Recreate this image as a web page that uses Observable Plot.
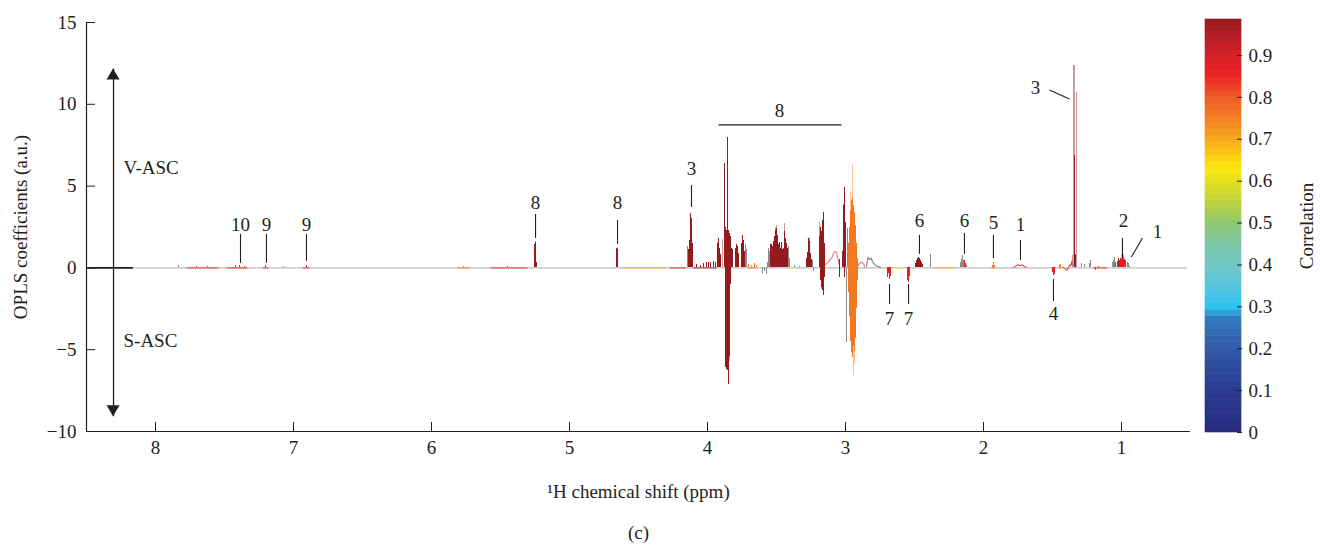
<!DOCTYPE html>
<html><head><meta charset="utf-8">
<script src="https://cdn.jsdelivr.net/npm/d3@7"></script>
<script src="https://cdn.jsdelivr.net/npm/@observablehq/plot@0.6"></script>
<style>
body{margin:0;background:#fff;}
#wrap{position:relative;width:1320px;height:547px;}
#wrap svg{position:absolute;top:0;}
</style></head><body><div id="wrap"></div>
<script>
// ---------- data ----------
const D = 0.985, R = 0.86, O = 0.76, A = 0.70, Y = 0.64, G = null; // correlation levels (G = not significant, grey)

const xTicks = [8, 7, 6, 5, 4, 3, 2, 1];
const yTicks = [-10, -5, 0, 5, 10, 15];
const cbarTicks = [0, 0.1, 0.2, 0.3, 0.4, 0.5, 0.6, 0.7, 0.8, 0.9];
const cbarMax = 0.986;

const corrStops  = [0, 0.1, 0.2, 0.27, 0.3, 0.35, 0.4, 0.45, 0.5, 0.55, 0.6, 0.63, 0.67, 0.7, 0.75, 0.8, 0.83, 0.86, 0.9, 0.95, 1.0];
const corrColors = ["#262a7f", "#2a3b90", "#3159a6", "#3479bd", "#2ec3ef", "#58c5dd", "#70c6c5", "#7cc6a6", "#8fc871", "#bcd23d", "#e4e11c", "#fde910", "#fcc314", "#f8a81b", "#f47f24", "#ef5b25", "#ec3a25", "#ec1e24", "#d41f27", "#b01d24", "#8a181c"];

const spectrumRange = [8.16, 0.52];
const blankRange = [8.49, 8.16];

// [ppm, OPLS coefficient, correlation]
const peaksAromatic = [
  [7.83,0.15,G],[7.70,0.06,R],[7.62,0.06,R],[7.42,0.12,R],[7.39,0.16,R],[7.355,0.1,R],[7.20,0.15,R],
  [7.07,0.1,G],[6.905,0.14,R],[5.77,0.06,O],[5.45,0.06,R]
];
const peaksSugar = [
  [5.252,1.45,D],[5.245,1.55,D],[5.238,0.3,D],
  [4.658,1.2,D],[4.650,1.15,D],
  [4.143,1.3,G],[4.136,1.1,D],[4.128,1.7,D],[4.123,3.3,D],[4.117,3.05,D],[4.112,1.5,D],[4.106,0.4,D],
  [4.08,0.2,D],[4.05,0.15,D],[4.03,0.25,D],[4.01,0.3,D],[3.99,0.35,D],[3.975,0.3,D],[3.96,0.4,D],[3.945,0.3,D],
  [3.928,1.5,D],[3.921,1.8,D],[3.914,1.2,D],[3.906,0.8,D],
  [3.88,1.5,D],[3.874,6.4,D],[3.868,2.5,D],[3.862,2.3,D],[3.857,2.6,D],[3.852,7.97,D],[3.846,2.3,D],[3.84,2.1,D],[3.833,1.9,D],[3.826,1.2,D],[3.819,1.1,D],
  [3.866,-6.1,D],[3.861,-6.2,D],[3.856,-6.3,D],[3.851,-7.1,D],[3.846,-6.2,D],[3.841,-5.4,D],[3.836,-1.0,D],
  [3.80,1.2,D],[3.793,1.4,D],[3.786,1.1,D],[3.779,1.3,D],[3.772,0.9,D],
  [3.752,1.5,D],[3.745,1.95,D],[3.739,1.7,D],[3.733,1.0,D],
  [3.727,1.4,G],[3.72,1.1,G],
  [3.70,0.2,O],[3.68,0.15,O],[3.66,0.25,O],[3.645,0.15,O],
  [3.60,-0.37,G],[3.59,-0.25,G],[3.575,-0.4,G],[3.565,0.3,G],[3.556,1.2,G],[3.549,1.0,G]
];
const peaksMid = [
  [3.54,1.4,D],[3.533,1.45,D],[3.526,1.3,D],[3.519,1.6,D],[3.512,1.9,D],[3.505,2.3,D],[3.499,2.4,D],[3.492,2.0,D],
  [3.485,1.4,D],[3.478,1.55,D],[3.471,1.2,D],[3.465,1.55,D],[3.458,1.1,D],[3.451,1.2,D],[3.444,2.2,D],[3.437,1.8,D],
  [3.43,1.5,D],[3.423,1.2,D],[3.417,0.9,D],[3.41,1.3,G],[3.403,0.6,G],
  [3.39,0.1,Y],[3.37,0.12,G],[3.33,0.08,G],
  [3.285,0.6,D],[3.278,0.95,D],[3.271,1.3,D],[3.266,1.82,D],[3.259,1.6,D],[3.252,0.9,D],[3.245,0.5,D],[3.236,0.45,G],[3.23,-0.2,G],
  [3.192,1.2,D],[3.186,1.9,D],[3.18,2.5,D],[3.174,2.2,D],[3.168,2.9,D],[3.162,3.3,D],[3.157,3.4,D],[3.151,1.5,D],
  [3.18,-0.8,D],[3.174,-1.2,D],[3.168,-1.4,D],[3.162,-1.7,D],[3.157,-1.6,D],[3.151,-0.6,D],
  [3.046,-0.6,D],[3.04,0.5,D],
  [3.024,1.0,D],[3.017,3.8,D],[3.011,3.5,D],[3.004,4.9,D],[2.998,2.8,D],[3.01,-0.6,D],
  [2.992,-4.56,G],[2.989,2.4,G],
  [2.976,1.5,O],[2.97,2.5,O],[2.963,3.5,O],[2.957,4.1,O],[2.952,4.0,O],[2.946,4.3,O],[2.94,3.8,O],[2.934,3.4,O],[2.928,2.6,O],[2.922,1.5,O],[2.916,0.6,O],
  [2.976,-1.5,O],[2.97,-3.0,O],[2.963,-4.5,O],[2.957,-5.2,O],[2.952,-5.0,O],[2.946,-5.5,O],[2.94,-4.8,O],[2.934,-5.1,O],[2.928,-4.3,O],[2.922,-2.5,O],[2.916,-0.8,O]
];
const peaksAliphatic = [
  [2.693,-0.6,R],[2.686,-0.35,R],[2.679,-0.7,R],[2.672,-0.5,R],
  [2.55,-0.75,R],[2.543,-0.87,R],[2.536,-0.55,R],
  [2.49,0.25,D],[2.483,0.45,D],[2.476,0.55,D],[2.469,0.63,D],[2.462,0.6,D],[2.455,0.45,D],[2.448,0.3,D],[2.441,0.2,D],
  [2.384,0.79,G],
  [2.17,0.3,G],[2.162,0.5,G],[2.155,0.73,G],[2.148,0.45,G],[2.14,0.47,R],[2.133,0.25,R],[2.125,0.15,G],
  [1.935,0.15,O],[1.928,0.3,O],[1.921,0.12,O],
  [1.497,-0.3,R],[1.492,-0.45,R],[1.487,-0.39,R],
  [1.45,0.15,O],[1.44,0.2,O],
  [1.355,0.3,G],[1.343,6.9,D],[1.338,6.9,D],[1.333,0.8,D],
  [1.29,0.25,G],[1.27,0.2,G],[1.235,0.25,G],[1.225,0.45,G],[1.19,-0.18,R],[1.17,0.1,R],
  [1.062,0.3,G],[1.055,0.47,G],[1.048,0.63,G],[1.04,0.35,R],[1.032,0.4,R],[1.025,0.55,D],[1.018,0.45,R],[1.01,0.6,R],
  [1.003,0.5,R],[0.996,0.6,R],[0.989,0.55,R],[0.982,0.65,R],[0.975,0.5,R],[0.968,0.45,R],[0.96,0.3,G],[0.952,0.25,G],[0.944,0.1,G]
];
// faint (light-shaded) traces of the spectrum
const paleTraces = [
  [5.249,1.6,D],[4.654,1.25,D],[4.126,3.35,D],[3.894,1.75,D],[3.841,-5.7,D],[3.507,2.46,D],[3.497,2.6,D],[3.442,2.7,D],
  [3.262,1.85,D],[3.188,2.77,D],[3.176,-1.3,D],[3.014,3.85,D],[3.007,4.5,D],
  [2.965,4.7,O],[2.952,6.34,O],[2.945,-6.6,O],[2.935,-5.9,O],
  [1.358,0.73,D],[1.346,12.35,D],[1.341,12.35,D],[1.329,10.7,D],[1.0,0.75,R],[0.985,0.8,R]
];
// coloured stretches of the baseline [from ppm, to ppm, correlation]
const baseSegments = [
  [7.77,7.54,R],[7.48,7.33,R],[7.22,7.18,R],[6.93,6.88,R],[5.81,5.72,O],[5.57,5.30,R],[4.61,4.29,A],[4.27,4.15,R],
  [4.10,3.93,D],[3.71,3.64,O],[3.40,3.38,Y],[2.66,2.57,Y],[2.36,2.20,A],[1.94,1.91,O],[1.45,1.43,O],[1.20,1.10,R]
];
// broad humps [ppm, value]
const humpPale1 = [[3.145,0.2],[3.121,0.4],[3.097,0.66],[3.08,1.0],[3.068,1.0],[3.056,0.6],[3.046,0.2]];
const humpPale2 = [[2.915,0.05],[2.9,0.25],[2.885,0.35],[2.87,0.25],[2.86,0.05]];
const humpGrey  = [[2.848,0.1],[2.838,0.65],[2.826,0.5],[2.814,0.6],[2.802,0.35],[2.783,0.15],[2.746,0.03]];
const humpRed1  = [[1.78,0.03],[1.765,0.12],[1.75,0.2],[1.735,0.14],[1.72,0.18],[1.705,0.1],[1.69,0.03]];
const humpRed2  = [[1.425,0.05],[1.41,-0.05],[1.395,-0.15],[1.385,0.0],[1.375,0.2],[1.365,0.15],[1.358,0.45]];

// annotations
const annoLabels = ["10","9","9","8","8","3","8","6","6","5","1","2","1","3","7","7","4"];
const annoPpm    = [7.384,7.196,6.906,5.246,4.652,4.116,3.478,2.464,2.138,1.928,1.732,0.986,0.739,1.623,2.681,2.543,1.493];
const annoValue  = [2.63,2.63,2.63,3.97,3.97,6.05,9.6,2.87,2.87,2.75,2.63,2.87,2.2,11.0,-3.12,-3.12,-2.81];
// leader lines [ppm1, v1, ppm2, v2]
const leaders = [
  [7.384,2.08,7.384,0.31],[7.196,2.08,7.196,0.31],[6.906,2.08,6.906,0.43],
  [5.246,3.30,5.246,1.83],[4.652,2.93,4.652,1.47],[4.116,5.07,4.116,3.73],
  [3.920,8.74,3.029,8.74],
  [2.464,2.02,2.464,0.86],[2.138,2.14,2.138,0.86],[1.928,2.02,1.928,0.61],[1.732,1.71,1.732,0.49],
  [0.993,1.83,0.993,0.61],[0.928,0.67,0.848,1.83],[1.522,10.88,1.377,10.33],
  [2.681,-0.98,2.681,-2.2],[2.543,-0.98,2.543,-2.2],[1.493,-0.67,1.493,-2.02]
];
const groupArrow = {x: 8.304, top: 12.16, bottom: -9.1};
const groupLabels = ["V-ASC", "S-ASC"];
const groupLabelPos = [[8.232, 6.11], [8.232, -4.46]];

// ---------- chart ----------
const ink = "#231f20";
const font = "'Liberation Serif', 'Times New Roman', serif";
const colorOpts = {type: "linear", domain: corrStops, range: corrColors, interpolate: "rgb"};
const allPeaks = [...peaksAromatic, ...peaksSugar, ...peaksMid, ...peaksAliphatic];
const colored = allPeaks.filter(d => d[2] != null);
const grey = allPeaks.filter(d => d[2] == null);
const annos = annoLabels.map((t, i) => ({t, x: annoPpm[i], y: annoValue[i]}));

function arrowHeads(index, scales) {
  const x = scales.x(groupArrow.x), yt = scales.y(groupArrow.top), yb = scales.y(groupArrow.bottom);
  const g = d3.create("svg:g").attr("fill", ink);
  g.append("path").attr("d", `M${x},${yt}L${x - 6.5},${yt + 11}L${x + 6.5},${yt + 11}Z`);
  g.append("path").attr("d", `M${x},${yb}L${x - 6.5},${yb - 11}L${x + 6.5},${yb - 11}Z`);
  return g.node();
}

const stick = {y1: 0, shapeRendering: "crispEdges"};

const main = Plot.plot({
  width: 1320, height: 547,
  marginLeft: 86, marginRight: 130, marginTop: 22, marginBottom: 116,
  style: {fontFamily: font, fontSize: "19px", color: ink, background: "transparent", overflow: "visible"},
  x: {domain: [8.5, 0.5]},
  y: {domain: [-10, 15]},
  color: colorOpts,
  marks: [
    Plot.ruleY([blankRange[0]], {y: 0, x1: blankRange[0], x2: spectrumRange[1], stroke: "#cfcfcf", strokeWidth: 1.6}),
    Plot.ruleY([blankRange], {y: 0, x1: d => d[0], x2: d => d[1], stroke: "#222", strokeWidth: 1.6}),
    Plot.ruleY(baseSegments, {y: 0, x1: d => d[0], x2: d => d[1], stroke: d => d[2], strokeWidth: 1, strokeOpacity: 0.85}),
    Plot.ruleX(paleTraces, {...stick, x: d => d[0], y2: d => d[1], stroke: d => d[2], strokeOpacity: 0.45}),
    Plot.line(humpPale1, {x: d => d[0], y: d => d[1], stroke: () => R, strokeOpacity: 0.55, strokeWidth: 1.2}),
    Plot.line(humpPale2, {x: d => d[0], y: d => d[1], stroke: () => R, strokeOpacity: 0.55, strokeWidth: 1.2}),
    Plot.line(humpGrey, {x: d => d[0], y: d => d[1], stroke: "#8a8a8a", strokeWidth: 1.2}),
    Plot.line(humpRed1, {x: d => d[0], y: d => d[1], stroke: () => R, strokeWidth: 1}),
    Plot.line(humpRed2, {x: d => d[0], y: d => d[1], stroke: () => R, strokeWidth: 1}),
    Plot.ruleX(grey, {...stick, x: d => d[0], y2: d => d[1], stroke: "#8a8a8a"}),
    Plot.ruleX(colored, {...stick, x: d => d[0], y2: d => d[1], stroke: d => d[2]}),
    // axes
    Plot.ruleX([8.5], {y1: -10, y2: 15, stroke: ink, strokeWidth: 1.2}),
    Plot.ruleY([-10], {x1: 8.5, x2: 0.5, stroke: ink, strokeWidth: 1.2}),
    Plot.axisY(yTicks, {anchor: "left", tickSize: 0, tickPadding: 10, label: null, fill: ink}),
    Plot.axisY(yTicks, {anchor: "left", tickSize: 9, dx: 9, tickFormat: () => "", label: null, stroke: ink}),
    Plot.axisX(xTicks, {anchor: "bottom", tickSize: 0, tickPadding: 9, label: null, fill: ink, tickFormat: d => String(d)}),
    Plot.axisX(xTicks, {anchor: "bottom", tickSize: 9, dy: -9, tickFormat: () => "", label: null, stroke: ink}),
    Plot.text(["OPLS coefficients (a.u.)"], {text: d => d, frameAnchor: "left", textAnchor: "middle", rotate: -90, dx: -66, fill: ink}),
    Plot.text(["\u00b9H chemical shift (ppm)"], {text: d => d, frameAnchor: "bottom", dy: 66, fill: ink}),
    Plot.text(["(c)"], {text: d => d, frameAnchor: "bottom", dy: 107, fill: ink}),
    // group arrow
    Plot.ruleX([groupArrow], {x: d => d.x, y1: d => d.bottom, y2: d => d.top, stroke: ink, strokeWidth: 1.3}),
    arrowHeads,
    Plot.text(groupLabels, {x: (d, i) => groupLabelPos[i][0], y: (d, i) => groupLabelPos[i][1], text: d => d, textAnchor: "start", fill: ink}),
    // annotations
    Plot.link(leaders, {x1: d => d[0], y1: d => d[1], x2: d => d[2], y2: d => d[3], stroke: ink, strokeWidth: 1.1}),
    Plot.text(annos, {x: "x", y: "y", text: "t", fill: ink})
  ]
});
main.style.left = "0px";

const bands = d3.range(64).map(i => [i / 64 * cbarMax, (i + 1) / 64 * cbarMax, (i + 0.5) / 64 * cbarMax]);
const cbar = Plot.plot({
  width: 130, height: 547,
  marginLeft: 15, marginRight: 79, marginTop: 19, marginBottom: 115,
  style: {fontFamily: font, fontSize: "19px", color: ink, background: "transparent", overflow: "visible"},
  x: {domain: [0, 1], axis: null},
  y: {domain: [0, cbarMax], axis: null},
  color: colorOpts,
  marks: [
    Plot.rect(bands, {x1: 0, x2: 1, y1: d => d[0], y2: d => d[1], fill: d => d[2], stroke: d => d[2], strokeWidth: 0.6}),
    Plot.axisY(cbarTicks, {anchor: "right", tickSize: 0, tickPadding: 7, label: null, fill: ink, tickFormat: d => d === 0 ? "0" : d.toFixed(1)}),
    Plot.axisY(cbarTicks, {anchor: "right", tickSize: 5, dx: -5, tickFormat: () => "", label: null, stroke: ink}),
    Plot.text(["Correlation"], {text: d => d, frameAnchor: "right", textAnchor: "middle", rotate: -90, dx: 65, fill: ink})
  ]
});
cbar.style.left = "1190px";

const wrap = document.getElementById("wrap");
wrap.append(main, cbar);
</script>
</body></html>
